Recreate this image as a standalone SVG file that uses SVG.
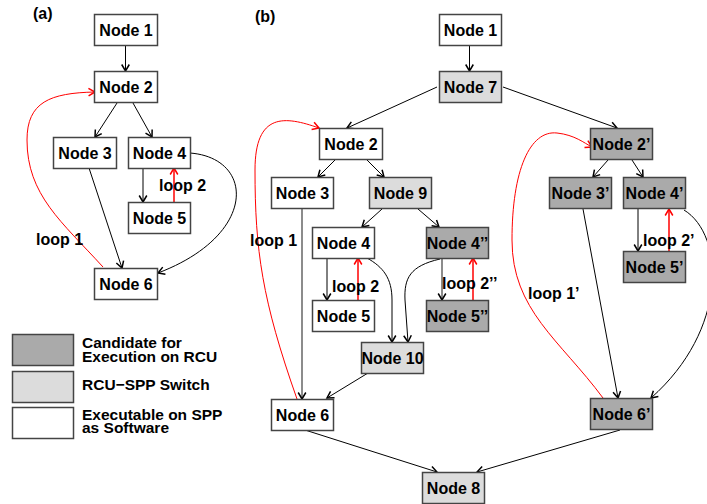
<svg xmlns="http://www.w3.org/2000/svg" width="707" height="504" viewBox="0 0 707 504">
  <defs>
    <marker id="arr" markerUnits="userSpaceOnUse" markerWidth="14" markerHeight="14" viewBox="-8 -7 10 14" refX="0" refY="0" orient="auto">
      <path d="M-6.5,-3.8 L0,0 L-6.5,3.8" fill="none" stroke="#000" stroke-width="1.5"/>
    </marker>
    <marker id="arr-red" markerUnits="userSpaceOnUse" markerWidth="14" markerHeight="14" viewBox="-8 -7 10 14" refX="0" refY="0" orient="auto">
      <path d="M-6.5,-3.8 L0,0 L-6.5,3.8" fill="none" stroke="#f00" stroke-width="1.5"/>
    </marker>
  </defs>
  <style>
    text { font-family: "Liberation Sans", Arial, Helvetica, sans-serif; font-weight: bold; font-size: 16px; fill: #000; }
    .node rect { stroke: #444; stroke-width: 1.5; }
    .node text { text-anchor: middle; }
    .sw { fill: #ffffff; }
    .sx { fill: #dcdcdc; }
    .rcu { fill: #aaaaaa; }
    .edge { fill: none; stroke: #000; stroke-width: 1; marker-end: url(#arr); }
    .edge.gray { stroke: #666; stroke-width: 1.5; }
    .loop { fill: none; stroke: #f00; stroke-width: 1; marker-end: url(#arr-red); }
    .loop.thick { stroke-width: 1.5; }
    .legend-text { font-size: 15.5px; }
  </style>

  <rect width="707" height="504" fill="#fff"/>

  <!-- panel labels -->
  <text x="33" y="19">(a)</text>
  <text x="255" y="22">(b)</text>

  <!-- connectors -->
  <g id="connectors">
    <!-- (a) -->
    <path class="edge" d="M125.5,45 L125.5,71"/>
    <path class="edge" d="M117,103 L95,137"/>
    <path class="edge" d="M133,103 L152,137"/>
    <path class="edge" d="M143,168 L143,202"/>
    <path class="edge" d="M89,168 L122,268"/>
    <path class="edge" d="M190,153 C255,158 258,235 158,273"/>
    <path class="loop thick" d="M174,202 L174,168"/>
    <path class="loop" d="M103,267 C62,222 27,195 27,140 C27,102 50,93 95,92"/>

    <!-- (b) -->
    <path class="edge" d="M469.5,45 L469.5,71"/>
    <path class="edge" d="M437,87 L347,128"/>
    <path class="edge" d="M503,87 L617,128"/>
    <path class="edge" d="M335,160 L318,177"/>
    <path class="edge" d="M367,160 L384,177"/>
    <path class="edge" d="M382,209 L362,227"/>
    <path class="edge" d="M418,209 L439,227"/>
    <path class="edge" d="M327,258 L327,300"/>
    <path class="edge gray" d="M442,258 L442,300"/>
    <path class="edge" d="M367,258 C383,267 392,278 392,300 L392,342"/>
    <path class="edge" d="M440,259 C410,266 404,278 405,300 L408,342"/>
    <path class="edge gray" d="M302,209 L302,399"/>
    <path class="edge" d="M368,373 L327,398"/>
    <path class="edge" d="M305,430 L437,472"/>
    <path class="edge" d="M620,430 L477,472"/>
    <path class="edge" d="M608,160 L593,177"/>
    <path class="edge" d="M632,160 L643,177"/>
    <path class="edge" d="M638,209 L638,251"/>
    <path class="edge" d="M583,209 L618,398"/>
    <path class="edge" d="M684,210 C725,235 728,330 651,398"/>
    <path class="loop thick" d="M358,300 L358,258"/>
    <path class="loop thick" d="M473,300 L473,258"/>
    <path class="loop thick" d="M669,251 L669,209"/>
    <path class="loop" d="M297,399 C262,300 255,250 255,170 C255,112 285,116 319,128"/>
    <path class="loop" d="M603,398 C560,340 512,310 512,240 C512,170 530,130 557,133 C575,135 584,143 592,147"/>
  </g>

  <!-- loop labels -->
  <text x="36" y="245">loop 1</text>
  <text x="159" y="191">loop 2</text>
  <text x="250" y="246">loop 1</text>
  <text x="332" y="292">loop 2</text>
  <text x="442" y="289">loop 2’’</text>
  <text x="643" y="246">loop 2’</text>
  <text x="528" y="299">loop 1’</text>

  <!-- (a) nodes -->
  <g id="a-node1" class="node"><rect class="sw" x="94.5" y="14.5" width="63" height="31"/><text x="126" y="36">Node 1</text></g>
  <g id="a-node2" class="node"><rect class="sw" x="94.5" y="71.5" width="63" height="31"/><text x="126" y="93">Node 2</text></g>
  <g id="a-node3" class="node"><rect class="sw" x="53.5" y="137.5" width="63" height="31"/><text x="85" y="159">Node 3</text></g>
  <g id="a-node4" class="node"><rect class="sw" x="128.5" y="137.5" width="62" height="31"/><text x="159.5" y="159">Node 4</text></g>
  <g id="a-node5" class="node"><rect class="sw" x="128.5" y="202.5" width="62" height="31"/><text x="159.5" y="224">Node 5</text></g>
  <g id="a-node6" class="node"><rect class="sw" x="94.5" y="268.5" width="63" height="31"/><text x="126" y="290">Node 6</text></g>

  <!-- (b) nodes -->
  <g id="b-node1" class="node"><rect class="sw" x="439.5" y="14.5" width="62" height="31"/><text x="470.5" y="36">Node 1</text></g>
  <g id="b-node7" class="node"><rect class="sx" x="439.5" y="71.5" width="62" height="31"/><text x="470.5" y="93">Node 7</text></g>
  <g id="b-node2" class="node"><rect class="sw" x="319.5" y="128.5" width="63" height="31"/><text x="351" y="150">Node 2</text></g>
  <g id="b-node3" class="node"><rect class="sw" x="271.5" y="177.5" width="62" height="31"/><text x="302.5" y="199">Node 3</text></g>
  <g id="b-node9" class="node"><rect class="sx" x="369.5" y="177.5" width="62" height="31"/><text x="400.5" y="199">Node 9</text></g>
  <g id="b-node4" class="node"><rect class="sw" x="312.5" y="227.5" width="62" height="31"/><text x="343.5" y="249">Node 4</text></g>
  <g id="b-node4pp" class="node"><rect class="rcu" x="426.5" y="227.5" width="62" height="31"/><text x="457.5" y="249">Node 4’’</text></g>
  <g id="b-node5" class="node"><rect class="sw" x="312.5" y="300.5" width="62" height="31"/><text x="343.5" y="322">Node 5</text></g>
  <g id="b-node5pp" class="node"><rect class="rcu" x="426.5" y="300.5" width="62" height="31"/><text x="457.5" y="322">Node 5’’</text></g>
  <g id="b-node10" class="node"><rect class="sx" x="361.5" y="342.5" width="62" height="31"/><text x="392.5" y="364">Node 10</text></g>
  <g id="b-node6" class="node"><rect class="sw" x="271.5" y="399.5" width="62" height="31"/><text x="302.5" y="421">Node 6</text></g>
  <g id="b-node8" class="node"><rect class="sx" x="422.5" y="472.5" width="62" height="31"/><text x="453.5" y="494">Node 8</text></g>
  <g id="b-node2p" class="node"><rect class="rcu" x="590.5" y="128.5" width="62" height="31"/><text x="621.5" y="150">Node 2’</text></g>
  <g id="b-node3p" class="node"><rect class="rcu" x="549.5" y="177.5" width="62" height="31"/><text x="580.5" y="199">Node 3’</text></g>
  <g id="b-node4p" class="node"><rect class="rcu" x="623.5" y="177.5" width="62" height="31"/><text x="654.5" y="199">Node 4’</text></g>
  <g id="b-node5p" class="node"><rect class="rcu" x="623.5" y="251.5" width="62" height="31"/><text x="654.5" y="273">Node 5’</text></g>
  <g id="b-node6p" class="node"><rect class="rcu" x="590.5" y="398.5" width="62" height="31"/><text x="621.5" y="420">Node 6’</text></g>

  <!-- legend -->
  <g id="legend">
    <g class="node"><rect class="rcu" x="12.5" y="334.5" width="61" height="31"/></g>
    <g class="node"><rect class="sx" x="12.5" y="371.5" width="61" height="31"/></g>
    <g class="node"><rect class="sw" x="12.5" y="407.5" width="61" height="31"/></g>
    <text class="legend-text" x="82" y="347.5">Candidate for</text>
    <text class="legend-text" x="82" y="362">Execution on RCU</text>
    <text class="legend-text" x="82" y="390">RCU−SPP Switch</text>
    <text class="legend-text" x="82" y="419.5">Executable on SPP</text>
    <text class="legend-text" x="82" y="433">as Software</text>
  </g>
</svg>
